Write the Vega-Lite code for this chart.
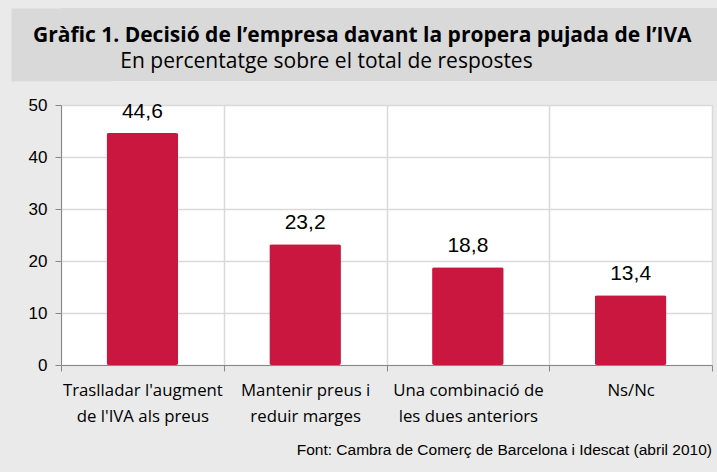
{
  "$schema": "https://vega.github.io/schema/vega-lite/v6.json",
  "background": "#EAEAEA",
  "padding": {"left": 10, "top": 8, "right": 0, "bottom": 15},
  "spacing": 9,
  "config": {
    "view": {"stroke": null},
    "font": "Liberation Sans",
    "locale": {"number": {"decimal": ",", "thousands": ".", "grouping": [3], "currency": ["", " €"]}}
  },
  "vconcat": [
    {
      "width": 657,
      "height": 73,
      "view": {"fill": "#D9D9D9", "stroke": null},
      "data": {"values": [{"k": "", "v": 0}]},
      "mark": {"type": "text"},
      "encoding": {
        "text": {"field": "k"},
        "y": {
          "field": "v",
          "type": "quantitative",
          "scale": {"domain": [0, 1]},
          "axis": {
            "title": null,
            "labels": false,
            "ticks": false,
            "grid": false,
            "domainWidth": 100,
            "domainColor": "#D9D9D9",
            "offset": 0,
            "minExtent": 50,
            "maxExtent": 50
          }
        }
      },
      "title": {
        "text": "Gràfic 1. Decisió de l’empresa davant la propera pujada de l’IVA",
        "subtitle": "\u200b\u00a0\u00a0\u00a0\u00a0\u00a0\u00a0\u00a0\u00a0\u00a0\u00a0\u00a0\u00a0\u00a0\u00a0\u00a0\u00a0En percentatge sobre el total de respostes",
        "anchor": "start",
        "frame": "group",
        "orient": "top",
        "offset": -64,
        "dx": -28,
        "font": "Open Sans",
        "fontSize": 21,
        "fontWeight": "bold",
        "color": "#000000",
        "subtitleFont": "Open Sans",
        "subtitleFontSize": 21,
        "subtitleColor": "#000000",
        "subtitlePadding": 5
      }
    },
    {
      "width": 651,
      "height": 260,
      "view": {"fill": "#FFFFFF", "stroke": "#D9D9D9"},
      "data": {
        "values": [
          {"cat": "Traslladar l'augment|de l'IVA als preus", "pct": 44.6},
          {"cat": "Mantenir preus i|reduir marges", "pct": 23.2},
          {"cat": "Una combinació de|les dues anteriors", "pct": 18.8},
          {"cat": "Ns/Nc", "pct": 13.4}
        ]
      },
      "title": {
        "text": "Font: Cambra de Comerç de Barcelona i Idescat (abril 2010)",
        "orient": "bottom",
        "anchor": "end",
        "frame": "group",
        "offset": 18,
        "font": "Liberation Sans",
        "fontSize": 15.5,
        "fontWeight": "normal",
        "color": "#000000"
      },
      "encoding": {
        "x": {
          "field": "cat",
          "type": "nominal",
          "sort": null,
          "scale": {"paddingInner": 0, "paddingOuter": 0},
          "axis": {
            "title": null,
            "labelAngle": 0,
            "tickBand": "extent",
            "grid": true,
            "gridColor": "#D9D9D9",
            "gridWidth": 1.5,
            "domainColor": "#888888",
            "tickColor": "#888888",
            "tickSize": 6,
            "labelFont": "Open Sans",
            "labelFontSize": 16.8,
            "labelColor": "#000000",
            "labelLineHeight": 26,
            "labelPadding": 11,
            "labelExpr": "split(datum.label, '|')"
          }
        },
        "y": {
          "field": "pct",
          "type": "quantitative",
          "scale": {"domain": [0, 50], "nice": false},
          "axis": {
            "title": null,
            "values": [0, 10, 20, 30, 40, 50],
            "grid": true,
            "gridColor": "#D9D9D9",
            "gridWidth": 1.5,
            "domainColor": "#888888",
            "tickColor": "#888888",
            "tickSize": 6,
            "labelFont": "Liberation Sans",
            "labelFontSize": 17,
            "labelColor": "#000000",
            "labelPadding": 8,
            "minExtent": 50
          }
        }
      },
      "layer": [
        {
          "mark": {"type": "bar", "color": "#C9173F", "width": {"band": 0.44}, "cornerRadius": 2}
        },
        {
          "mark": {"type": "text", "dy": -15.5, "baseline": "alphabetic", "font": "Liberation Sans", "fontSize": 21, "color": "#000000"},
          "encoding": {"text": {"field": "pct", "type": "quantitative", "format": ".1f"}}
        }
      ]
    }
  ]
}
